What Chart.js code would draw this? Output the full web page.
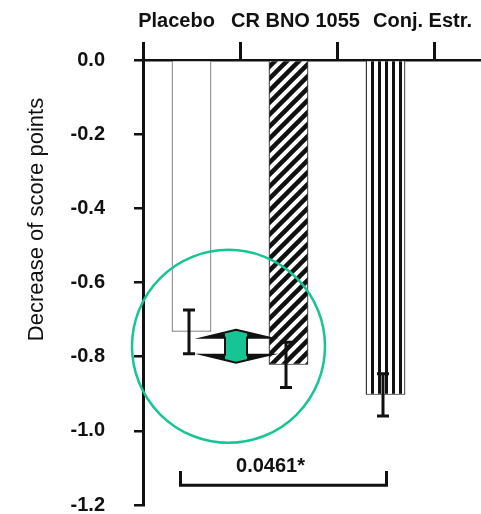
<!DOCTYPE html>
<html>
<head>
<meta charset="utf-8">
<script src="https://cdn.jsdelivr.net/npm/chart.js@4.4.0/dist/chart.umd.min.js"></script>
<style>
    html, body { margin: 0; padding: 0; background: #fff; overflow: hidden; }
    #chart { display: block; }
</style>
</head>
<body>
<canvas id="chart" width="540" height="514"></canvas>
<script>
// Données
const categories = ['Placebo', 'CR BNO 1055', 'Conj. Estr.', ''];
const meanDecrease = [-0.733, -0.822, -0.903, null];
const errorSizes = [0.059, 0.061, 0.057, null];
const yTickValues = [0, -0.2, -0.4, -0.6, -0.8, -1.0, -1.2];
const yTickLabels = ['0.0', '-0.2', '-0.4', '-0.6', '-0.8', '-1.0', '-1.2'];
const yAxisTitle = 'Decrease of score points';
const pValueLabel = '0.0461*';
const bracketRange = [-1.108, -1.147];

const INK = '#111';
const GREEN = '#17c594';
const FONT = '"Liberation Sans", Arial, sans-serif';

// Motif hachuré "////"
function makeHatch() {
    const c = document.createElement('canvas');
    c.width = 12; c.height = 12;
    const g = c.getContext('2d');
    g.fillStyle = '#fff';
    g.fillRect(0, 0, 12, 12);
    g.strokeStyle = INK;
    g.lineWidth = 4.5;
    [[-6, 6, 6, -6], [0, 12, 12, 0], [6, 18, 18, 6]].forEach(([a, b, c2, d]) => {
        g.beginPath(); g.moveTo(a, b); g.lineTo(c2, d); g.stroke();
    });
    return g.createPattern(c, 'repeat');
}

// Motif rayures verticales
function makeStripes() {
    const c = document.createElement('canvas');
    c.width = 7; c.height = 7;
    const g = c.getContext('2d');
    g.fillStyle = '#fff';
    g.fillRect(0, 0, 7, 7);
    g.fillStyle = INK;
    g.fillRect(0, 0, 3, 7);
    return g.createPattern(c, 'repeat');
}

// Barres d'erreur, crochet, libellés et annotation verte
const extrasPlugin = {
    id: 'extras',
    afterDraw(chart) {
        const ctx = chart.ctx;
        const xs = chart.scales.x;
        const ys = chart.scales.y;
        const area = chart.chartArea;
        const bars = chart.getDatasetMeta(0).data;

        ctx.save();

        // barres d'erreur
        ctx.strokeStyle = INK;
        ctx.lineCap = 'butt';
        meanDecrease.forEach((v, i) => {
            if (v === null) return;
            const x = bars[i].x - 2.5;
            const yTop = ys.getPixelForValue(v + errorSizes[i]);
            const yBot = ys.getPixelForValue(v - errorSizes[i]);
            ctx.lineWidth = 3;
            ctx.beginPath();
            ctx.moveTo(x, yTop); ctx.lineTo(x, yBot);
            ctx.moveTo(x - 6, yTop); ctx.lineTo(x + 6, yTop);
            ctx.moveTo(x - 6, yBot); ctx.lineTo(x + 6, yBot);
            ctx.stroke();
        });

        // crochet de significativité
        const bx1 = bars[0].x - 11;
        const bx2 = bars[2].x + 1;
        const byTop = ys.getPixelForValue(bracketRange[0]);
        const byBot = ys.getPixelForValue(bracketRange[1]);
        ctx.lineWidth = 3;
        ctx.beginPath();
        ctx.moveTo(bx1, byTop); ctx.lineTo(bx1, byBot);
        ctx.lineTo(bx2, byBot); ctx.lineTo(bx2, byTop);
        ctx.stroke();
        ctx.fillStyle = INK;
        ctx.font = 'bold 20px ' + FONT;
        ctx.textAlign = 'center';
        ctx.textBaseline = 'alphabetic';
        ctx.fillText(pValueLabel, (bx1 + bx2) / 2 - 13, byTop + 1);

        // libellés des catégories en haut
        const labelShift = [-15, 7, 37, 0];
        categories.forEach((lab, i) => {
            if (!lab) return;
            ctx.fillText(lab, xs.getPixelForValue(i) + labelShift[i], area.top - 33);
        });

        // titre de l'axe Y
        ctx.save();
        ctx.translate(37, (area.top + area.bottom) / 2 - 63);
        ctx.rotate(-Math.PI / 2);
        ctx.font = '22px ' + FONT;
        ctx.textBaseline = 'middle';
        ctx.fillText(yAxisTitle, 0, 0);
        ctx.restore();

        // cercle vert
        const cx = xs.getPixelForValue(0.5) - 11.5;
        const cy = ys.getPixelForValue(-0.772);
        ctx.strokeStyle = GREEN;
        ctx.lineWidth = 2.5;
        ctx.beginPath();
        ctx.arc(cx, cy, 96.5, 0, Math.PI * 2);
        ctx.stroke();

        // double flèche : corps vert, ailes noires
        const ax = xs.getPixelForValue(0.5) - 4;
        const ay = cy;
        const poly = (pts) => {
            ctx.beginPath();
            pts.forEach(([px, py], k) => {
                if (k === 0) ctx.moveTo(ax + px, ay + py);
                else ctx.lineTo(ax + px, ay + py);
            });
            ctx.closePath();
        };
        const outline = [
            [0, -16.5], [34, -8.5], [11, -8.5], [11, 8.5], [34, 8.5],
            [0, 16.5], [-33, 8.5], [-11, 8.5], [-11, -8.5], [-33, -8.5]
        ];
        poly(outline);
        ctx.fillStyle = GREEN;
        ctx.fill();
        ctx.fillStyle = INK;
        poly([[11, -13.9], [34, -8.5], [11, -8.5]]); ctx.fill();
        poly([[-11, -13.9], [-33, -8.5], [-11, -8.5]]); ctx.fill();
        poly([[11, 13.9], [34, 8.5], [11, 8.5]]); ctx.fill();
        poly([[-11, 13.9], [-33, 8.5], [-11, 8.5]]); ctx.fill();
        poly(outline);
        ctx.strokeStyle = INK;
        ctx.lineWidth = 2;
        ctx.lineJoin = 'miter';
        ctx.stroke();

        ctx.restore();
    }
};

function initChart() {
    const ctx = document.getElementById('chart').getContext('2d');

    new Chart(ctx, {
        type: 'bar',
        data: {
            labels: categories,
            datasets: [{
                data: meanDecrease,
                backgroundColor: ['#fff', makeHatch(), makeStripes(), '#fff'],
                borderColor: ['#666', INK, INK, INK],
                borderWidth: 1.2,
                barPercentage: 0.41,
                categoryPercentage: 1
            }]
        },
        options: {
            responsive: false,
            animation: false,
            devicePixelRatio: 1,
            layout: { padding: { top: 0, right: 9, bottom: 9, left: 0 } },
            plugins: {
                legend: { display: false },
                tooltip: { enabled: false }
            },
            scales: {
                x: {
                    position: 'top',
                    offset: true,
                    afterFit: s => { s.height = 60; },
                    grid: {
                        offset: true,
                        drawOnChartArea: false,
                        tickLength: 18,
                        lineWidth: 3,
                        color: INK
                    },
                    border: { width: 2.5, color: INK },
                    ticks: { display: false }
                },
                y: {
                    min: -1.2,
                    max: 0,
                    afterFit: s => {
                        s.width = 143;
                        s.paddingTop = 0;
                        s.paddingBottom = 0;
                    },
                    afterBuildTicks: s => { s.ticks = yTickValues.map(v => ({ value: v })); },
                    grid: {
                        drawOnChartArea: false,
                        tickLength: 9,
                        lineWidth: 2.5,
                        color: INK
                    },
                    border: { width: 3, color: INK },
                    ticks: {
                        autoSkip: false,
                        padding: 29,
                        color: INK,
                        font: { family: FONT, size: 20, weight: 'bold' },
                        callback: (value, index) => yTickLabels[index]
                    }
                }
            }
        },
        plugins: [extrasPlugin]
    });
}

document.addEventListener('DOMContentLoaded', () => {
    initChart();
});
</script>
</body>
</html>
